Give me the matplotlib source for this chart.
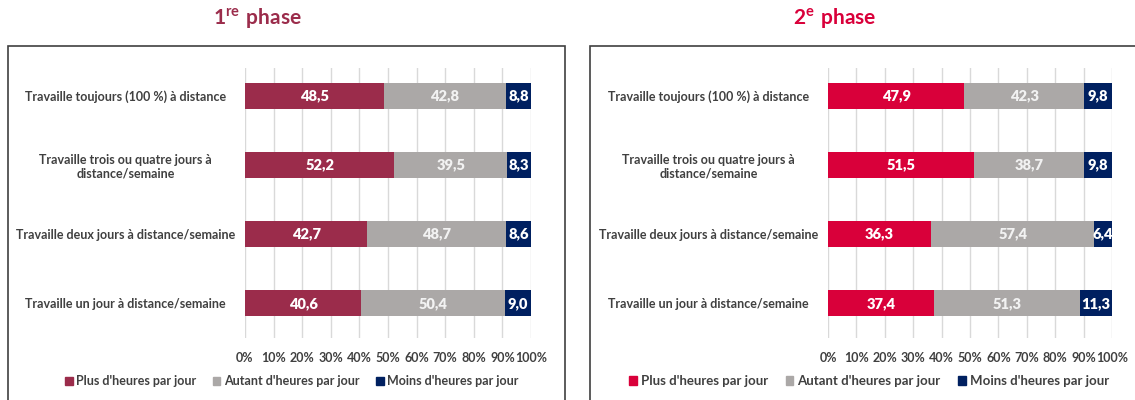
import numpy as np
import matplotlib.pyplot as plt
from matplotlib.patches import Rectangle, Patch

plt.rcParams["font.family"] = ["Lato", "DejaVu Sans"]
plt.rcParams["mathtext.fontset"] = "custom"
plt.rcParams["mathtext.rm"] = "Lato"
plt.rcParams["mathtext.bf"] = "Lato:bold"

categories = [
    "Travaille toujours (100 %) à distance",
    "Travaille trois ou quatre jours à\ndistance/semaine",
    "Travaille deux jours à distance/semaine",
    "Travaille un jour à distance/semaine",
]
series_names = ["Plus d'heures par jour", "Autant d'heures par jour", "Moins d'heures par jour"]

phase1_plus = [48.5, 52.2, 42.7, 40.6]
phase1_autant = [42.8, 39.5, 48.7, 50.4]
phase1_moins = [8.8, 8.3, 8.6, 9.0]

phase2_plus = [47.9, 51.5, 36.3, 37.4]
phase2_autant = [42.3, 38.7, 57.4, 51.3]
phase2_moins = [9.8, 9.8, 6.4, 11.3]

x_ticks = [0, 10, 20, 30, 40, 50, 60, 70, 80, 90, 100]

grey = "#ABA8A7"
navy = "#002060"
text_col = "#404040"


def draw_panel(fig, rect, values, red, title, title_x, legend_x, legend_size, colspace):
    ax = fig.add_axes(rect)
    y = np.arange(len(categories))
    left = np.zeros(len(categories))
    colors = [red, grey, navy]
    label_colors = ["white", "#F2F2F2", "white"]
    for vals, col, lcol, name in zip(values, colors, label_colors, series_names):
        vals = np.array(vals)
        bars = ax.barh(y, vals, left=left, height=0.375, color=col, label=name, zorder=3)
        ax.bar_label(bars, labels=[f"{v:.1f}".replace(".", ",") for v in vals],
                     label_type="center", color=lcol, fontsize=10.5, fontweight="heavy")
        left += vals
    ax.set_xlim(0, 100)
    ax.set_ylim(3.5, -0.4)
    ax.set_xticks(x_ticks)
    ax.set_xticklabels([f"{t}%" for t in x_ticks], fontsize=9, fontweight="bold", color=text_col)
    ax.set_yticks(y)
    ax.set_yticklabels(categories, fontsize=9, fontweight="bold", color=text_col, ha="center")
    ax.tick_params(axis="y", length=0, pad=86)
    ax.tick_params(axis="x", length=0, pad=10)
    ax.grid(axis="x", color="#D9D9D9", linewidth=1, zorder=0)
    for s in ax.spines.values():
        s.set_visible(False)
    fig.text(title_x, 1 - 18 / 400, title, color=red, fontsize=15, fontweight="bold",
             ha="center", va="center")
    handles = [Patch(color=c) for c in colors]
    fig.legend(handles, series_names, loc="center", bbox_to_anchor=(legend_x, 1 - 381 / 400),
               ncol=3, frameon=False, handlelength=0.6, handleheight=0.6, handletextpad=0.3,
               columnspacing=colspace, prop={"weight": "bold", "size": legend_size},
               labelcolor=text_col)
    return ax


fig = plt.figure(figsize=(11.35, 4), dpi=100)

# frames around each panel
fig.patches.append(Rectangle((8 / 1135, -0.1), 557 / 1135, 1.1 - 46 / 400, transform=fig.transFigure,
                             fill=False, edgecolor="#404040", linewidth=1.2))
fig.patches.append(Rectangle((590 / 1135, -0.1), 0.6, 1.1 - 46 / 400, transform=fig.transFigure,
                             fill=False, edgecolor="#404040", linewidth=1.2))

draw_panel(fig, [245 / 1135, 62 / 400, 286 / 1135, 270 / 400],
           [phase1_plus, phase1_autant, phase1_moins], "#9B2C4B",
           r"$\mathbf{1^{re}\ phase}$", 257 / 1135, 292 / 1135, 9, 1.3)
draw_panel(fig, [828 / 1135, 62 / 400, 284 / 1135, 270 / 400],
           [phase2_plus, phase2_autant, phase2_moins], "#D9003A",
           r"$\mathbf{2^{e}\ phase}$", 835 / 1135, 869 / 1135, 9.5, 1.3)

fig.savefig("out.png", dpi=100)
